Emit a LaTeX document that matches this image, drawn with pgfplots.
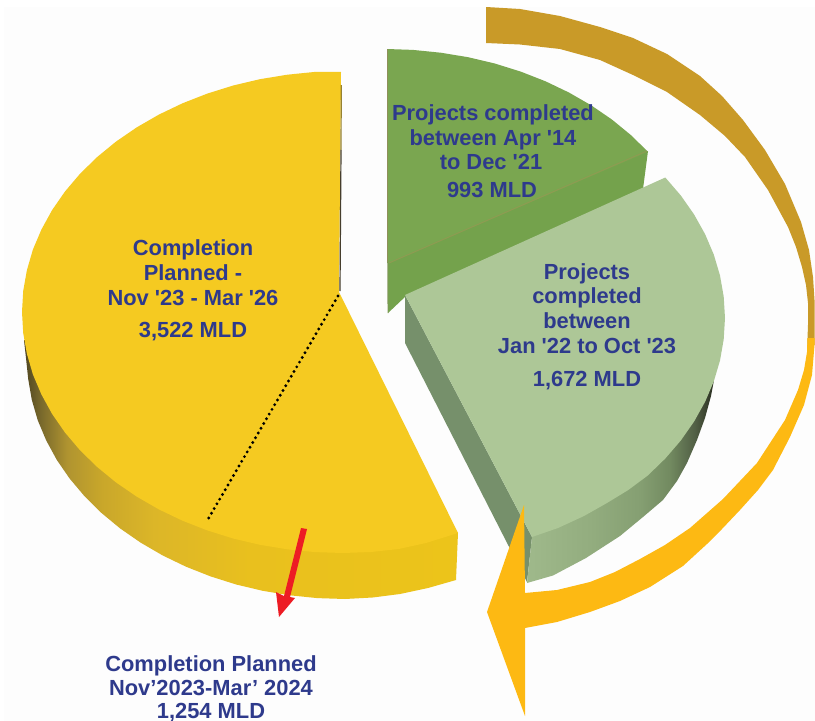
\documentclass[border=0pt]{standalone}
\usepackage{fontspec}
\usepackage{pgfplots}
\pgfplotsset{compat=1.18}
\newfontfamily\lab{Liberation Sans}
\definecolor{navyt}{HTML}{2E3A8C}
\definecolor{ytop}{HTML}{F5CA21}
\definecolor{dgtop}{HTML}{7AA650}
\definecolor{dgside}{HTML}{74A24C}
\definecolor{lgtop}{HTML}{ADC797}
\definecolor{lgwall}{HTML}{76906B}
\definecolor{gold}{HTML}{C99A28}
\definecolor{orng}{HTML}{FDB913}
\definecolor{arrred}{HTML}{ED1C24}
\definecolor{bgc}{HTML}{FDFDFD}
\definecolor{ysa}{HTML}{4F4520}
\definecolor{ysb}{HTML}{7A6A2C}
\definecolor{ysc}{HTML}{B09430}
\definecolor{ysd}{HTML}{C9A72A}
\definecolor{yse}{HTML}{DCB628}
\definecolor{ysf}{HTML}{E9C01E}
\definecolor{ysg}{HTML}{ECC41A}
\definecolor{lsa}{HTML}{9FB98B}
\definecolor{lsb}{HTML}{93AD7F}
\definecolor{lsc}{HTML}{859F72}
\definecolor{lsd}{HTML}{728A60}
\definecolor{lse}{HTML}{515F45}
\definecolor{lsf}{HTML}{2A2E20}
\pgfdeclarehorizontalshading{yside}{100bp}{
 color(0bp)=(ysa); color(25bp)=(ysa); color(27bp)=(ysb); color(30bp)=(ysc);
 color(34bp)=(ysd); color(40bp)=(yse); color(51bp)=(ysf); color(75bp)=(ysg); color(100bp)=(ysg)}
\pgfdeclarehorizontalshading{lside}{100bp}{
 color(0bp)=(lsa); color(25bp)=(lsa); color(41.8bp)=(lsb); color(55.2bp)=(lsc);
 color(63.2bp)=(lsd); color(69.9bp)=(lse); color(75bp)=(lsf); color(100bp)=(lsf)}
\newcommand{\lbl}[3]{\node[anchor=base,text=navyt,inner sep=0pt,font=\lab\bfseries\fontsize{16.4}{18}\selectfont] at (axis cs:#1,#2) {#3};}
\begin{document}
\begin{tikzpicture}
\begin{axis}[scale only axis,width=611.25pt,height=540.75pt,xmin=0,xmax=815,ymin=0,ymax=721,y dir=reverse,hide axis]
% background
\addplot[fill=white,draw=none] coordinates {(0,0)(815,0)(815,721)(0,721)} -- cycle;
\addplot[fill=bgc,draw=none] coordinates {(4,7)(815,7)(815,721)(4,721)} -- cycle;
% yellow side
\addplot[draw=none,shading=yside] coordinates {(458,533)(456,580)(428,588)(400,594)(372.7,597.5)(345,599)(317.3,598.1)(289.8,595.3)(262.7,590.8)(236.2,584.5)(210.6,576.4)(186,566.7)(162.6,555.4)(140.6,542.6)(120.1,528.4)(101.4,512.9)(84.5,496.2)(69.6,478.5)(56.8,459.9)(46.2,440.4)(37.8,420.4)(31.8,399.8)(28.2,379)(26,358)(24,340)(300,400)} -- cycle;
% yellow top
\addplot[draw=none,fill=ytop] coordinates {(339,292)(341,72)(315,71.9)(287.3,74.7)(259.9,79.2)(233.2,85.5)(207.3,93.6)(182.5,103.3)(158.9,114.6)(136.7,127.4)(116,141.6)(97.1,157.1)(80,173.8)(65,191.5)(52.1,210.1)(41.4,229.6)(32.9,249.6)(26.9,270.2)(23.2,291)(22,312)(23.2,333)(26.9,353.8)(32.9,374.4)(41.4,394.4)(52.1,413.9)(65,432.5)(80,450.2)(97.1,466.9)(116,482.4)(136.7,496.6)(158.9,509.4)(182.5,520.7)(207.3,530.4)(233.2,538.5)(259.9,544.8)(287.3,549.3)(315,552.1)(343,553)(371,552)(398.7,549)(426,543)(458,533)} -- cycle;
\addplot[draw={rgb,255:red,150;green,130;blue,50},line width=0.9pt] coordinates {(341.3,85)(341,150)};
\addplot[draw={rgb,255:red,70;green,62;blue,45},line width=0.9pt] coordinates {(341,150)(340,291)};
% dotted radius
\addplot[draw=black,line width=2.4pt,line cap=round,dash pattern=on 0pt off 4.1pt] coordinates {(338,296)(207,521)};
% dark green
\addplot[draw=none,fill=dgside] coordinates {(648,151)(643,189)(406,296)(388,313)(388,263)} -- cycle;
\addplot[draw=none,fill=dgtop] coordinates {(387,49)(413,49.9)(440.7,52.7)(468.1,57.2)(494.8,63.5)(520.7,71.6)(545.5,81.3)(569.1,92.6)(591.3,105.4)(612,119.6)(630.9,135.1)(648,151.8)(389,263)(387,263)} -- cycle;
\addplot[draw={rgb,255:red,143;green,154;blue,82},line width=0.7pt] coordinates {(647,151)(389,263)};
\addplot[draw={rgb,255:red,143;green,143;blue,90},line width=0.7pt] coordinates {(387.5,49)(387.5,262)};
\addplot[draw={rgb,255:red,130;green,150;blue,90},line width=0.7pt] coordinates {(387.8,262)(388,313)};
% light green
\addplot[draw=none,fill=lgwall] coordinates {(405,295)(405,343)(527,582)(532,537)} -- cycle;
\addplot[draw=none,shading=lside] coordinates {(532,537)(527,583)(553,575.5)(586,558)(620,536)(643,517)(663,500)(677,481)(687,463)(697,440)(705,418)(711,396)(714,380)(600,400)} -- cycle;
\addplot[draw=none,fill=lgtop] coordinates {(405,295)(665.3,177.5)(680.8,195.5)(694.1,214.5)(705.1,234.2)(713.8,254.6)(720,275.5)(723.7,296.6)(725,318)(723.7,339.4)(720,360.5)(713.8,381.4)(705.1,401.8)(694.1,421.5)(680.8,440.5)(665.3,458.5)(647.8,475.5)(628.3,490)(607,503)(584,516)(558,528)(532,537)} -- cycle;
% arrow
\addplot[draw=none,fill=gold] coordinates {(486,7)(520,9)(560,16)(600,27)(633,38)(667,54)(700,76)(722,96)(743,120)(765,150)(785,184)(801,222)(809,250)(813,277)(814.5,300)(814.5,320)(814.5,345)(807,352)(808,325)(808,303)(806,285)(802,267)(796,247)(788,227)(768,190)(745,157)(725,136)(700,115)(667,92)(633,75)(600,60)(560,49)(520,44.5)(486,43)} -- cycle;
\addplot[draw=none,fill=orng] coordinates {(814.5,338)(814.5,345)(812,375)(804,405)(790,437)(773,470)(758,490)(740,510)(722,529)(707,544)(683,566)(650,587)(620,601)(590,612)(557,622)(525,628)(525,716)(487,612)(524,505)(525,593)(557,590)(590,582)(615,572)(640,559)(665,545)(690,528)(723,499)(757,463)(785,420)(798,390)(804,370)(807,352)(807.5,338)} -- cycle;
% red arrow
\addplot[draw=none,fill=arrred] coordinates {(301,528)(307,529)(290,597)(295,598)(279,617)(276,592)(284,596)} -- cycle;
% labels
\lbl{493}{120}{Projects completed}
\lbl{493}{145}{between Apr '14}
\lbl{491}{169}{to Dec '21}
\lbl{492}{197}{993 MLD}
\lbl{587}{279}{Projects}
\lbl{587}{303}{completed}
\lbl{587}{328}{between}
\lbl{587}{353}{Jan '22 to Oct '23}
\lbl{587}{386}{1,672 MLD}
\lbl{193}{255}{Completion}
\lbl{193}{280}{Planned -}
\lbl{193}{305}{Nov '23 - Mar '26}
\lbl{193}{337}{3,522 MLD}
\lbl{211}{671}{Completion Planned}
\lbl{211}{695}{Nov’2023-Mar’ 2024}
\lbl{211}{718}{1,254 MLD}
\end{axis}
\end{tikzpicture}
\end{document}
